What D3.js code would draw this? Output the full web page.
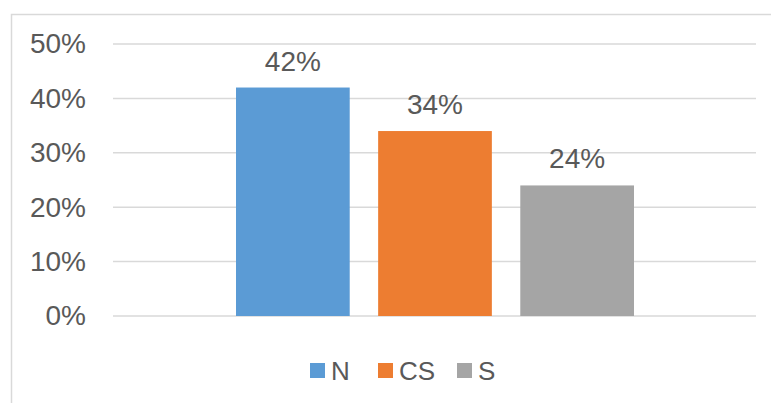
<!DOCTYPE html>
<html>
  <head>
  <title>Share by area</title>
  </head>
  <body style="margin:0">
    <style>
      body { background: #fff; }
      text { font-family: "Liberation Sans", Arial, sans-serif; fill: #595959; }
    </style>

  <svg id="svg" width="771" height="403"></svg>

  <script src="https://d3js.org/d3.v7.min.js"></script>
  <script>
    // data
    const seriesNames = ['N', 'CS', 'S']
    const seriesValues = [0.42, 0.34, 0.24]
    const seriesColors = ['#5B9BD5', '#ED7D31', '#A5A5A5']
    const yTicks = [0, 0.1, 0.2, 0.3, 0.4, 0.5]

    const width = 771
    const height = 403
    const plotLeft = 113
    const plotRight = 756
    const plotTop = 44
    const plotBottom = 316

    const svg = d3.select('#svg')

    // outer chart border (only left and top show in the frame)
    svg.append('rect')
        .attr('x', 11.5)
        .attr('y', 14.5)
        .attr('width', 900)
        .attr('height', 600)
        .attr('fill', 'none')
        .attr('stroke', '#d9d9d9')
        .attr('stroke-width', 1.5)

    const yscale = d3.scaleLinear()
        .domain([0, 0.5])
        .range([plotBottom, plotTop])

    // bars sit side by side inside one category
    const xscale = d3.scaleBand()
        .domain(seriesNames)
        .range([236, 634])
        .paddingInner(0.2)

    // gridlines
    svg.append('g')
        .selectAll('line')
        .data(yTicks)
        .join('line')
        .attr('x1', plotLeft)
        .attr('x2', plotRight)
        .attr('y1', d => yscale(d))
        .attr('y2', d => yscale(d))
        .attr('stroke', '#d9d9d9')
        .attr('stroke-width', 1.5)

    // left axis with no line, just labels
    const leftAxis = d3.axisLeft(yscale)
        .tickValues(yTicks)
        .tickFormat(d3.format('.0%'))
        .tickSize(0)
        .tickPadding(27)

    svg.append('g')
        .attr('transform', `translate(${plotLeft}, 0)`)
        .call(leftAxis)
        .call(g => g.select('.domain').remove())
        .call(g => g.selectAll('text')
            .attr('font-size', 28)
            .attr('font-family', '"Liberation Sans", Arial, sans-serif')
            .attr('fill', '#595959'))

    // bars
    svg.append('g')
        .selectAll('rect')
        .data(seriesNames)
        .join('rect')
        .attr('x', d => xscale(d))
        .attr('width', xscale.bandwidth())
        .attr('y', (d, i) => yscale(seriesValues[i]))
        .attr('height', (d, i) => plotBottom - yscale(seriesValues[i]))
        .attr('fill', (d, i) => seriesColors[i])

    // value labels
    svg.append('g')
        .selectAll('text')
        .data(seriesNames)
        .join('text')
        .attr('x', d => xscale(d) + xscale.bandwidth() / 2)
        .attr('y', (d, i) => yscale(seriesValues[i]) - 17)
        .attr('text-anchor', 'middle')
        .attr('font-size', 28)
        .text((d, i) => d3.format('.0%')(seriesValues[i]))

    // legend
    const legendX = [310, 378, 457]
    const legend = svg.append('g')
        .selectAll('g')
        .data(seriesNames)
        .join('g')
        .attr('transform', (d, i) => `translate(${legendX[i]}, 363)`)

    legend.append('rect')
        .attr('width', 15)
        .attr('height', 15)
        .attr('fill', (d, i) => seriesColors[i])

    legend.append('text')
        .attr('x', 21)
        .attr('y', 17)
        .attr('font-size', 26)
        .text(d => d)
  </script>
  </body>
</html>
